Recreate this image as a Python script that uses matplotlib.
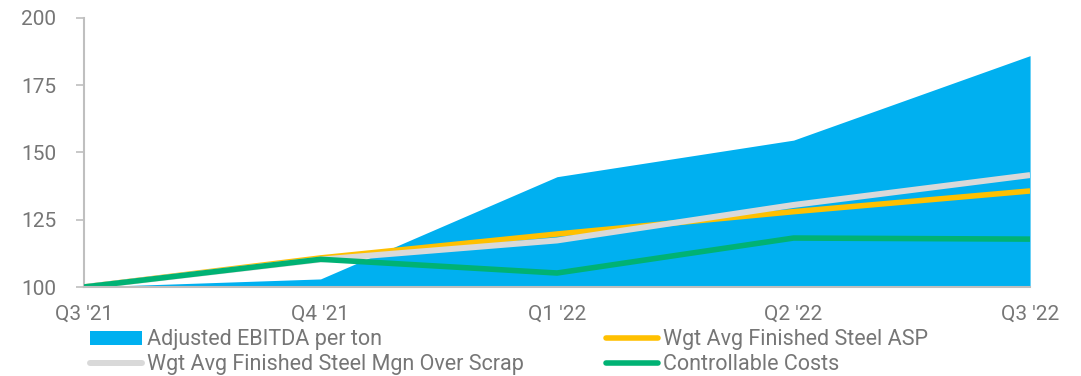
import matplotlib
matplotlib.use("Agg")
import matplotlib.pyplot as plt
from matplotlib.patches import Patch
from matplotlib.lines import Line2D

quarters = ["Q3 '21", "Q4 '21", "Q1 '22", "Q2 '22", "Q3 '22"]
ebitda_per_ton = [100, 103, 141, 154.6, 186]
steel_asp = [100, 110.8, 119.7, 128, 135.7]
steel_margin = [100, 110.2, 117.3, 130.5, 141.6]
controllable_costs = [100, 110.3, 105.2, 118.2, 117.8]

plt.rcParams["font.family"] = ["Roboto", "DejaVu Sans"]
text_color = "#767676"
c_blue = "#00B0F0"
c_yellow = "#FFC000"
c_gray = "#D9D9D9"
c_green = "#00B274"

fig = plt.figure(figsize=(10.81, 3.76), dpi=100)
ax = fig.add_axes([0.0777, 0.2367, 0.8752, 0.7155])

x = list(range(len(quarters)))
ax.fill_between(x, 100, ebitda_per_ton, color=c_blue, linewidth=0, zorder=1)
ax.plot(x, steel_asp, color=c_yellow, linewidth=4.0, zorder=3, solid_capstyle="butt")
ax.plot(x, steel_margin, color=c_gray, linewidth=4.3, zorder=4, solid_capstyle="butt")
ax.plot(x, controllable_costs, color=c_green, linewidth=4.0, zorder=5, solid_capstyle="butt")

ax.set_xlim(0, len(quarters) - 1)
ax.set_ylim(100, 200)
ax.set_yticks([100, 125, 150, 175, 200])
ax.set_xticks(x)
ax.set_xticklabels(quarters)

for s in ["top", "right"]:
    ax.spines[s].set_visible(False)
for s in ["left", "bottom"]:
    ax.spines[s].set_color("#BFBFBF")
    ax.spines[s].set_linewidth(1.5)
ax.spines["bottom"].set_zorder(6)

ax.tick_params(axis="y", colors="#BFBFBF", labelcolor=text_color, labelsize=15,
               length=6, width=1.2, pad=14)
ax.tick_params(axis="x", length=0, labelcolor=text_color, labelsize=15, pad=13)

handles = [
    Patch(facecolor=c_blue, edgecolor="none"),
    Line2D([], [], color=c_gray, linewidth=4.3, solid_capstyle="round"),
    Line2D([], [], color=c_yellow, linewidth=4.0, solid_capstyle="round"),
    Line2D([], [], color=c_green, linewidth=4.0, solid_capstyle="round"),
]
labels = [
    "Adjusted EBITDA per ton",
    "Wgt Avg Finished Steel Mgn Over Scrap",
    "Wgt Avg Finished Steel ASP",
    "Controllable Costs",
]
leg = fig.legend(handles, labels, ncol=2, loc="upper left",
                 bbox_to_anchor=(0.0835, 0.124), frameon=False,
                 fontsize=15.5, handlelength=2.4, handleheight=0.6,
                 handletextpad=0.25, columnspacing=3.8, labelspacing=0.16,
                 borderpad=0, borderaxespad=0)
for t in leg.get_texts():
    t.set_color(text_color)

fig.savefig("out.png", dpi=100)
